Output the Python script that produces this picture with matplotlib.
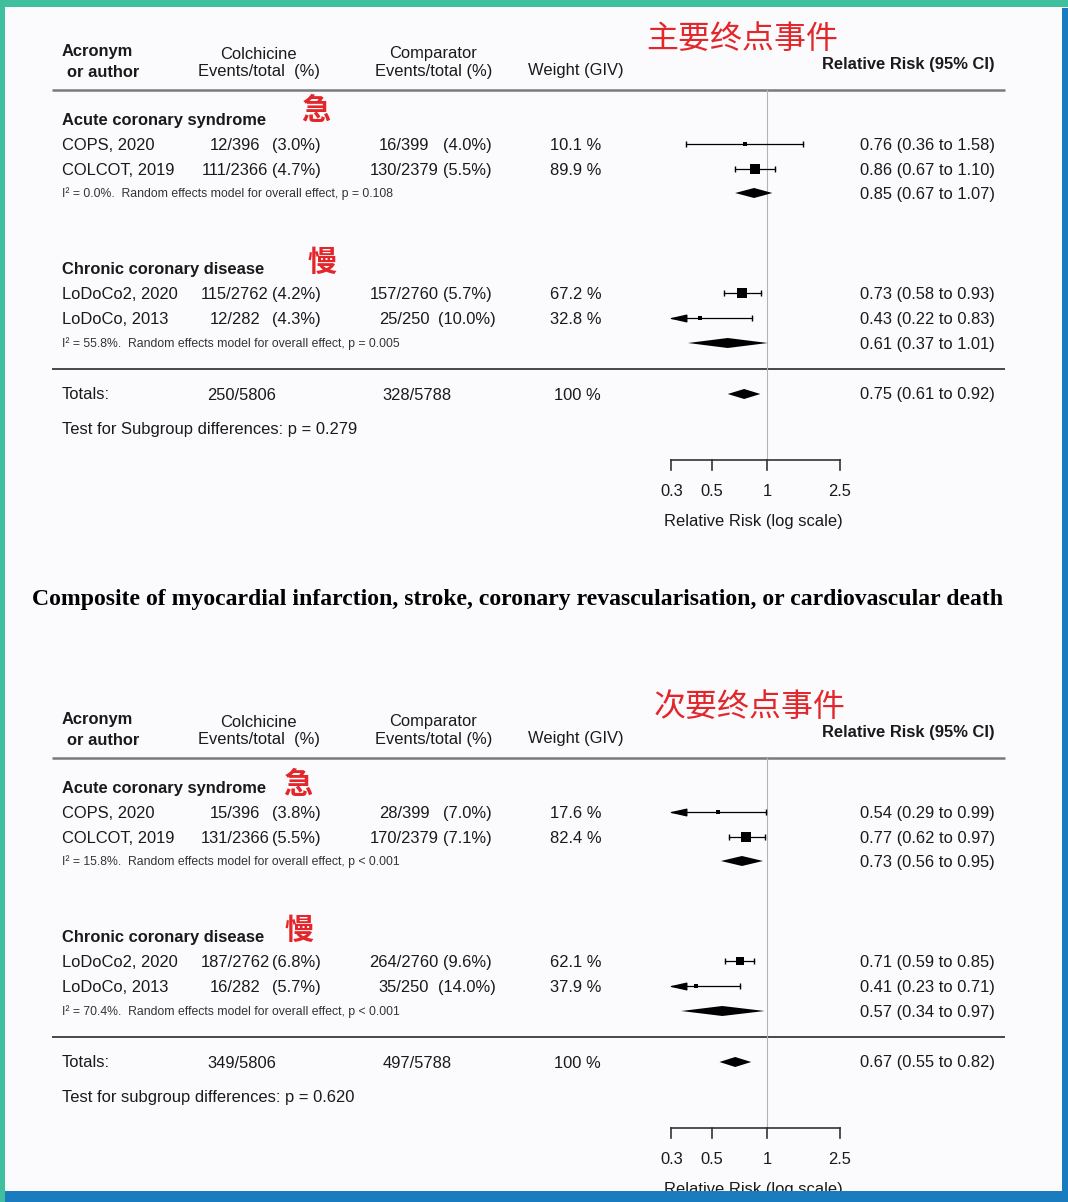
import numpy as np
import matplotlib
matplotlib.use("Agg")
import matplotlib.pyplot as plt
from matplotlib.patches import Rectangle
from matplotlib import transforms

W, H = 1068, 1202
plt.rcParams['font.family'] = ['Liberation Sans', 'DejaVu Sans']

# ---------------- data ----------------
subgroups = ["Acute coronary syndrome", "Chronic coronary disease"]
subgroup_cn = ["急", "慢"]
studies = ["COPS, 2020", "COLCOT, 2019", "LoDoCo2, 2020", "LoDoCo, 2013"]
col_totals = [396, 2366, 2762, 282]
cmp_totals = [399, 2379, 2760, 250]
tick_values = [0.3, 0.5, 1, 2.5]
tick_labels = ["0.3", "0.5", "1", "2.5"]

prim_title_cn = "主要终点事件"
prim_col_events = [12, 111, 115, 12]
prim_col_pct = [3.0, 4.7, 4.2, 4.3]
prim_cmp_events = [16, 130, 157, 25]
prim_cmp_pct = [4.0, 5.5, 5.7, 10.0]
prim_weight = [10.1, 89.9, 67.2, 32.8]
prim_rr = [0.76, 0.86, 0.73, 0.43]
prim_lo = [0.36, 0.67, 0.58, 0.22]
prim_hi = [1.58, 1.10, 0.93, 0.83]
prim_pool_rr = [0.85, 0.61]
prim_pool_lo = [0.67, 0.37]
prim_pool_hi = [1.07, 1.01]
prim_i2 = [0.0, 55.8]
prim_pool_p = ["= 0.108", "= 0.005"]
prim_tot_col = "250/5806"
prim_tot_cmp = "328/5788"
prim_overall = [0.75, 0.61, 0.92]
prim_test = "Test for Subgroup differences: p = 0.279"

sec_title_cn = "次要终点事件"
sec_col_events = [15, 131, 187, 16]
sec_col_pct = [3.8, 5.5, 6.8, 5.7]
sec_cmp_events = [28, 170, 264, 35]
sec_cmp_pct = [7.0, 7.1, 9.6, 14.0]
sec_weight = [17.6, 82.4, 62.1, 37.9]
sec_rr = [0.54, 0.77, 0.71, 0.41]
sec_lo = [0.29, 0.62, 0.59, 0.23]
sec_hi = [0.99, 0.97, 0.85, 0.71]
sec_pool_rr = [0.73, 0.57]
sec_pool_lo = [0.56, 0.34]
sec_pool_hi = [0.95, 0.97]
sec_i2 = [15.8, 70.4]
sec_pool_p = ["< 0.001", "< 0.001"]
sec_tot_col = "349/5806"
sec_tot_cmp = "497/5788"
sec_overall = [0.67, 0.55, 0.82]
sec_test = "Test for subgroup differences: p = 0.620"

title_text = ("Composite of myocardial infarction, stroke, coronary "
              "revascularisation, or cardiovascular death")

panels = [
    dict(cn=prim_title_cn, ce=prim_col_events, cp=prim_col_pct, me=prim_cmp_events,
         mp=prim_cmp_pct, w=prim_weight, rr=prim_rr, lo=prim_lo, hi=prim_hi,
         prr=prim_pool_rr, plo=prim_pool_lo, phi=prim_pool_hi, i2=prim_i2,
         pp=prim_pool_p, tc=prim_tot_col, tm=prim_tot_cmp, ov=prim_overall,
         test=prim_test),
    dict(cn=sec_title_cn, ce=sec_col_events, cp=sec_col_pct, me=sec_cmp_events,
         mp=sec_cmp_pct, w=sec_weight, rr=sec_rr, lo=sec_lo, hi=sec_hi,
         prr=sec_pool_rr, plo=sec_pool_lo, phi=sec_pool_hi, i2=sec_i2,
         pp=sec_pool_p, tc=sec_tot_col, tm=sec_tot_cmp, ov=sec_overall,
         test=sec_test),
]

# ---------------- layout ----------------
fig = plt.figure(figsize=(W / 100, H / 100), dpi=100)
fig.patch.set_facecolor('#fbfbfd')
bg = fig.add_axes([0, 0, 1, 1])
bg.set_xlim(0, W)
bg.set_ylim(H, 0)
bg.axis('off')

X_ONE = 767.0      # pixel x of RR = 1
PPD = 183.0        # pixels per decade
FA_L, FA_R = 620, 890
fa = fig.add_axes([FA_L / W, 0, (FA_R - FA_L) / W, 1])
fa.set_xscale('log')
fa.set_xlim(10 ** ((FA_L - X_ONE) / PPD), 10 ** ((FA_R - X_ONE) / PPD))
fa.set_ylim(H, 0)
fa.axis('off')
fa.patch.set_alpha(0)

CLIP_LO = 0.3
TXT = '#1a1a1a'
FS = 11.9
BL = 6.0          # baseline offset below visual centre (px)
CJK = ['Noto Sans CJK SC', 'DejaVu Sans']


def txt(ax, x, y, s, ha='left', **kw):
    kw.setdefault('fontsize', FS)
    kw.setdefault('color', TXT)
    ax.text(x, y + BL, s, ha=ha, va='baseline', **kw)


arrow_marker = [(-1, 0), (1, -0.45), (1, 0.45), (-1, 0)]
arrow_tr = transforms.offset_copy(fa.transData, fig=fig, x=7.5, y=0, units='dots')


def side_px(w):
    return 3.2 + 7.0 * np.clip((w - 30) / 40.0, 0, 1)


def diamond(rr, lo, hi, y, half=5):
    fa.fill([lo, rr, hi, rr], [y, y - half, y, y + half], color='black', lw=0, zorder=4)


offsets = [0, 668]
for pi, (P, dy) in enumerate(zip(panels, offsets)):
    # headers
    txt(bg, 62, 50 + dy, "Acronym", fontweight='bold')
    txt(bg, 67, 71 + dy, "or author", fontweight='bold')
    txt(bg, 258, 53 + dy, "Colchicine", ha='center')
    txt(bg, 259, 70 + dy, "Events/total  (%)", ha='center')
    txt(bg, 433, 52 + dy, "Comparator", ha='center')
    txt(bg, 434, 70 + dy, "Events/total (%)", ha='center')
    txt(bg, 576, 69 + dy, "Weight (GIV)", ha='center')
    txt(bg, 995, 63 + dy, "Relative Risk (95% CI)", ha='right', fontweight='bold')
    cx = 742 if pi == 0 else 750
    bg.text(cx, 39 + dy, P['cn'], fontsize=23, color='#e3262a', ha='center', va='center',
            family=CJK)
    bg.plot([52, 1005], [90 + dy, 90 + dy], color='#7a7a7a', lw=1.8, solid_capstyle='butt')
    bg.plot([52, 1005], [369 + dy, 369 + dy], color='#3a3a3a', lw=1.3, solid_capstyle='butt')

    # reference line at RR = 1
    fa.plot([1, 1], [90 + dy, 460 + dy], color='#b4b4b4', lw=0.8, zorder=1)

    group_y = [119, 268]
    cn_x = [[316, 322], [298, 299]][pi]
    cn_y = [[110, 262], [784, 930]][pi]
    study_y = [144, 169, 293, 318]
    pool_y = [193, 343]
    for g in range(2):
        txt(bg, 62, group_y[g] + dy, subgroups[g], fontweight='bold')
        bg.text(cn_x[g], cn_y[g], subgroup_cn[g], fontsize=21, fontweight='bold',
                color='#e3262a', ha='center', va='center', family=CJK)
        yp = pool_y[g] + dy
        bg.text(62, yp + 4.2,
                f"I² = {P['i2'][g]:.1f}%.  Random effects model for overall effect, p {P['pp'][g]}",
                fontsize=8.8, color='#333333', va='baseline')
        diamond(P['prr'][g], P['plo'][g], P['phi'][g], yp)
        txt(bg, 995, yp, f"{P['prr'][g]:.2f} ({P['plo'][g]:.2f} to {P['phi'][g]:.2f})",
            ha='right')

    for i in range(4):
        y = study_y[i] + dy
        txt(bg, 62, y, studies[i])
        txt(bg, 235, y, f"{P['ce'][i]}/{col_totals[i]}", ha='center')
        txt(bg, 296, y, f"({P['cp'][i]:.1f}%)", ha='center')
        txt(bg, 404, y, f"{P['me'][i]}/{cmp_totals[i]}", ha='center')
        txt(bg, 467, y, f"({P['mp'][i]:.1f}%)", ha='center')
        txt(bg, 576, y, f"{P['w'][i]:.1f} %", ha='center')
        txt(bg, 995, y, f"{P['rr'][i]:.2f} ({P['lo'][i]:.2f} to {P['hi'][i]:.2f})", ha='right')
        lo, hi, rr = P['lo'][i], P['hi'][i], P['rr'][i]
        left = max(lo, CLIP_LO)
        fa.plot([left, hi], [y, y], color='black', lw=0.9, zorder=3)
        fa.plot([hi], [y], marker='|', ms=4.5, mew=1.0, color='black', zorder=3)
        if lo < CLIP_LO:
            fa.plot([CLIP_LO], [y], marker=arrow_marker, ms=10.5, color='black',
                    transform=arrow_tr, zorder=4)
        else:
            fa.plot([lo], [y], marker='|', ms=4.5, mew=1.0, color='black', zorder=3)
        fa.plot([rr], [y], marker='s', ms=side_px(P['w'][i]) / 1.389, color='black',
                mew=0, zorder=5)

    # totals
    yt = 393 + dy
    txt(bg, 62, yt, "Totals:")
    txt(bg, 242, yt + 1, P['tc'], ha='center')
    txt(bg, 417, yt + 1, P['tm'], ha='center')
    txt(bg, 577, yt + 1, "100 %", ha='center')
    ov = P['ov']
    diamond(ov[0], ov[1], ov[2], yt + 1)
    txt(bg, 995, yt, f"{ov[0]:.2f} ({ov[1]:.2f} to {ov[2]:.2f})", ha='right')
    txt(bg, 62, 428 + dy, P['test'])

    # axis
    ya = 460 + dy
    fa.plot([tick_values[0], tick_values[-1]], [ya, ya], color='#333333', lw=1.2,
            solid_capstyle='projecting')
    for tv, tl in zip(tick_values, tick_labels):
        fa.plot([tv, tv], [ya, ya + 10], color='#333333', lw=1.2)
        txt(fa, tv, 490 + dy, tl, ha='center')
    txt(bg, 753, 520 + dy, "Relative Risk (log scale)", ha='center')

# title, scaled to fit its width
t = bg.text(32, 605, title_text, fontsize=15, fontweight='bold', color='black',
            va='baseline', family=['Liberation Serif', 'DejaVu Serif'])
fig.canvas.draw()
bb = t.get_window_extent()
t.set_fontsize(15 * 971.0 / bb.width)

# frame bands on top
ov_ax = fig.add_axes([0, 0, 1, 1])
ov_ax.set_xlim(0, W)
ov_ax.set_ylim(H, 0)
ov_ax.axis('off')
ov_ax.patch.set_alpha(0)
teal = '#3fbf9e'
blue = '#1a7bbf'
ov_ax.add_patch(Rectangle((0, 0), W, 7, color=teal, lw=0))
ov_ax.add_patch(Rectangle((0, 0), 5, H, color=teal, lw=0))
ov_ax.add_patch(Rectangle((W - 6, 8), 6, H, color=blue, lw=0))
ov_ax.add_patch(Rectangle((0, 1191), W, 11, color=blue, lw=0))
ov_ax.add_patch(Rectangle((0, 1191), 5, 11, color=teal, lw=0))

fig.savefig("out.png", dpi=100, facecolor=fig.get_facecolor())
